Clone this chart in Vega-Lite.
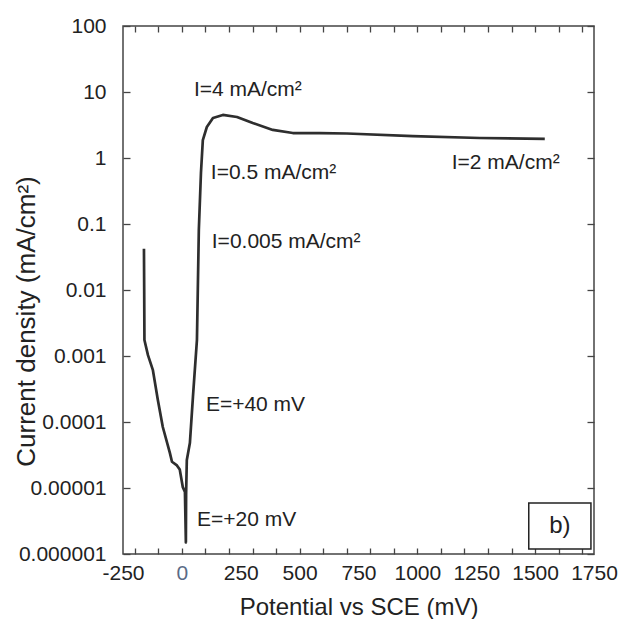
{
  "$schema": "https://vega.github.io/schema/vega-lite/v6.json",
  "width": 471,
  "height": 528,
  "autosize": "none",
  "padding": {"left": 123, "top": 26, "right": 24, "bottom": 65},
  "background": "white",
  "config": {
    "view": {"stroke": "#444", "strokeWidth": 1.5},
    "font": "Liberation Sans"
  },
  "datasets": {
    "curve": [
      {"i": 1, "E": -161, "J": 0.042},
      {"i": 2, "E": -160, "J": 0.01},
      {"i": 3, "E": -159, "J": 0.00175},
      {"i": 4, "E": -144, "J": 0.00103},
      {"i": 5, "E": -123, "J": 0.00061},
      {"i": 6, "E": -102, "J": 0.000215},
      {"i": 7, "E": -81, "J": 0.000084},
      {"i": 8, "E": -51, "J": 0.000034},
      {"i": 9, "E": -42, "J": 0.000025},
      {"i": 10, "E": -21, "J": 0.000022},
      {"i": 11, "E": -9, "J": 0.000019},
      {"i": 12, "E": 4, "J": 0.0000103},
      {"i": 13, "E": 13, "J": 0.0000087},
      {"i": 14, "E": 17, "J": 0.0000015},
      {"i": 15, "E": 18, "J": 0.000008},
      {"i": 16, "E": 21, "J": 0.0000265},
      {"i": 17, "E": 34, "J": 0.000048},
      {"i": 18, "E": 47, "J": 0.00024},
      {"i": 19, "E": 64, "J": 0.00175},
      {"i": 20, "E": 72, "J": 0.081},
      {"i": 21, "E": 81, "J": 0.593},
      {"i": 22, "E": 89, "J": 1.87},
      {"i": 23, "E": 106, "J": 2.95},
      {"i": 24, "E": 132, "J": 4.04},
      {"i": 25, "E": 174, "J": 4.49},
      {"i": 26, "E": 234, "J": 4.18},
      {"i": 27, "E": 301, "J": 3.39},
      {"i": 28, "E": 386, "J": 2.66},
      {"i": 29, "E": 471, "J": 2.39},
      {"i": 30, "E": 586, "J": 2.39},
      {"i": 31, "E": 701, "J": 2.35},
      {"i": 32, "E": 981, "J": 2.15},
      {"i": 33, "E": 1265, "J": 2.01},
      {"i": 34, "E": 1541, "J": 1.95}
    ],
    "notes": [
      {"label": "I=4 mA/cm²", "E": 51, "J": 10.7},
      {"label": "I=0.5 mA/cm²", "E": 123, "J": 0.593},
      {"label": "I=0.005 mA/cm²", "E": 127, "J": 0.0533},
      {"label": "E=+40 mV", "E": 102, "J": 0.000181},
      {"label": "E=+20 mV", "E": 64, "J": 0.00000327},
      {"label": "I=2 mA/cm²", "E": 1146, "J": 0.84}
    ],
    "box": [
      {"E1": 1473, "E2": 1737, "J1": 0.00000119, "J2": 0.00000593, "Ec": 1605, "Jc": 0.00000266, "tag": "b)"}
    ]
  },
  "layer": [
    {
      "data": {"name": "curve"},
      "mark": {"type": "line", "color": "#2e2e2e", "strokeWidth": 2.7, "strokeJoin": "round", "clip": true},
      "encoding": {
        "x": {
          "field": "E", "type": "quantitative",
          "scale": {"domain": [-250, 1750], "nice": false, "zero": false},
          "axis": {
            "orient": "bottom",
            "title": "Potential vs SCE (mV)",
            "titleFontSize": 24, "titleFontWeight": "normal", "titleColor": "#222",
            "titleY": 53, "titleBaseline": "middle",
            "values": [-250, -200, -100, 0, 100, 200, 250, 300, 400, 500, 600, 700, 750, 800, 900, 1000, 1100, 1200, 1250, 1300, 1400, 1500, 1600, 1700, 1750],
            "labelExpr": "datum.value % 250 === 0 ? '' + datum.value : ''",
            "labelFontSize": 21, "labelColor": {"condition": {"test": "datum.value === 0", "value": "#5b6b86"}, "value": "#222"},
            "labelPadding": 14, "labelFlush": false, "labelOverlap": false,
            "domain": false, "grid": false,
            "tickSize": -6, "tickWidth": 1.3, "tickColor": "#444",
            "tickOpacity": {"condition": {"test": "datum.value % 100 !== 0", "value": 0}, "value": 1}
          }
        },
        "y": {
          "field": "J", "type": "quantitative",
          "scale": {"type": "log", "domain": [0.000001, 100], "nice": false},
          "axis": {
            "orient": "left",
            "title": "Current density (mA/cm²)",
            "titleFontSize": 26, "titleFontWeight": "normal", "titleColor": "#222",
            "titleX": -97, "titleY": 295, "titleBaseline": "middle", "titleAlign": "center", "titleAngle": -90,
            "values": [0.000001, 0.00001, 0.0001, 0.001, 0.01, 0.1, 1, 10, 100],
            "labelExpr": "format(datum.value, '.6~f')",
            "labelFontSize": 21, "labelColor": "#222", "labelPadding": 24,
            "labelFlush": false, "labelOverlap": false,
            "domain": false, "grid": false,
            "tickSize": -7, "tickWidth": 1.3, "tickColor": "#444"
          }
        },
        "order": {"field": "i", "type": "quantitative"}
      }
    },
    {
      "data": {"name": "curve"},
      "mark": {"type": "point", "opacity": 0},
      "encoding": {
        "x": {
          "field": "E", "type": "quantitative",
          "axis": {
            "orient": "top", "title": null, "labels": false, "domain": false, "grid": false,
            "values": [-200, -100, 0, 100, 200, 300, 400, 500, 600, 700, 800, 900, 1000, 1100, 1200, 1300, 1400, 1500, 1600, 1700],
            "tickSize": -6, "tickWidth": 1.3, "tickColor": "#444"
          }
        },
        "y": {
          "field": "J", "type": "quantitative",
          "axis": {
            "orient": "right", "title": null, "labels": false, "domain": false, "grid": false,
            "values": [0.000001, 0.00001, 0.0001, 0.001, 0.01, 0.1, 1, 10, 100],
            "tickSize": -7, "tickWidth": 1.3, "tickColor": "#444"
          }
        }
      }
    },
    {
      "data": {"name": "notes"},
      "mark": {"type": "text", "align": "left", "baseline": "middle", "fontSize": 21, "color": "#222", "font": "Liberation Sans"},
      "encoding": {
        "x": {"field": "E", "type": "quantitative", "axis": null},
        "y": {"field": "J", "type": "quantitative", "axis": null},
        "text": {"field": "label", "type": "nominal"}
      }
    },
    {
      "data": {"name": "box"},
      "mark": {"type": "rect", "fill": "white", "stroke": "#222", "strokeWidth": 1.5},
      "encoding": {
        "x": {"field": "E1", "type": "quantitative", "axis": null},
        "x2": {"field": "E2"},
        "y": {"field": "J1", "type": "quantitative", "axis": null},
        "y2": {"field": "J2"}
      }
    },
    {
      "data": {"name": "box"},
      "mark": {"type": "text", "align": "center", "baseline": "middle", "fontSize": 24, "color": "#222", "font": "Liberation Sans"},
      "encoding": {
        "x": {"field": "Ec", "type": "quantitative", "axis": null},
        "y": {"field": "Jc", "type": "quantitative", "axis": null},
        "text": {"field": "tag", "type": "nominal"}
      }
    }
  ],
  "resolve": {"axis": {"x": "independent", "y": "independent"}}
}
